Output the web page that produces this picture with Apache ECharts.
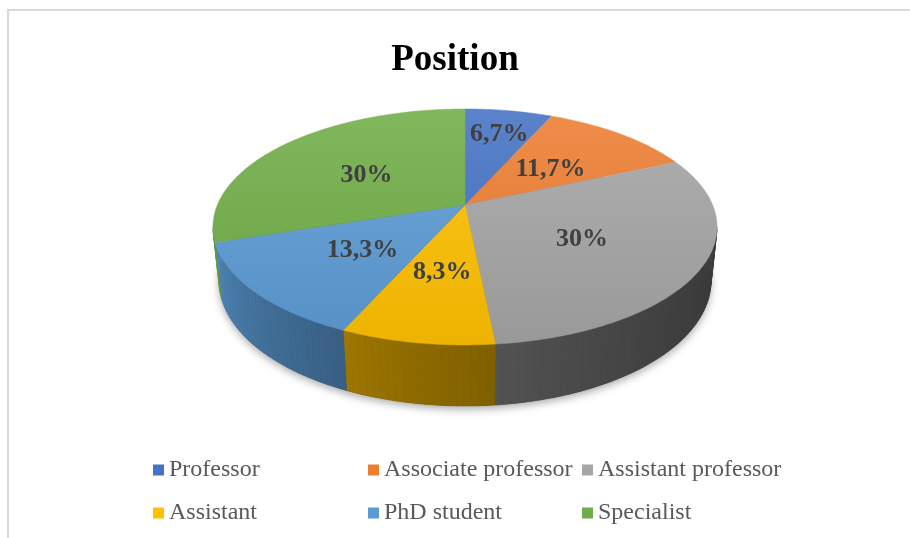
<!DOCTYPE html>
<html>
<head>
<meta charset="utf-8">
<script src="https://cdn.jsdelivr.net/npm/echarts@6/dist/echarts.min.js"></script>
<style>
  html, body { margin: 0; padding: 0; background: #fff; }
  #container { width: 910px; height: 538px; }
</style>
</head>
<body>
<div id="container"></div>
<script>
// dados do gráfico
var positions = ['Professor', 'Associate professor', 'Assistant professor', 'Assistant', 'PhD student', 'Specialist'];
var shares = [6.7, 11.7, 30, 8.3, 13.3, 30];
var palette = ['#4472C4', '#ED7D31', '#A5A5A5', '#FFC000', '#5B9BD5', '#70AD47'];

// 3D view (perspective) of the pie
var cx = 465, cy = 205, F = 1182, R = 0.2095, H = 0.0519, SA = 0.46, CA = 0.888;

function proj(deg, k, yup) {
    var t = deg * Math.PI / 180;
    var X = R * k * Math.sin(t), Z = R * k * Math.cos(t);
    var depth = 1 + Z * CA - yup * SA;
    var up = yup * CA + Z * SA;
    return [cx + F * X / depth, cy - F * up / depth];
}

function rgb(hex) {
    return [parseInt(hex.substr(1, 2), 16), parseInt(hex.substr(3, 2), 16), parseInt(hex.substr(5, 2), 16)];
}
function shadeCol(hex, f) {
    var c = rgb(hex);
    return 'rgb(' + c.map(function (v) { return Math.max(0, Math.min(255, Math.round(v * f))); }).join(',') + ')';
}
function lighten(hex, f) {
    var c = rgb(hex);
    return 'rgb(' + c.map(function (v) { return Math.round(v + (255 - v) * f); }).join(',') + ')';
}

var total = shares.reduce(function (a, b) { return a + b; }, 0);
var starts = [];
var acc = 0;
for (var i = 0; i < shares.length; i++) { starts.push(acc / total * 360); acc += shares[i]; }

function renderSlice(params, api) {
    var i = params.dataIndex;
    var v = api.value(0);
    var a0 = starts[i], a1 = a0 + v / total * 360;
    var base = palette[i];
    var children = [];

    if (i === 0) {
        var under = [];
        for (var d = 0; d <= 360; d += 3) under.push(proj(d, 1, -H));
        children.push({
            type: 'polygon', z2: 0, silent: true,
            shape: { points: under },
            style: { fill: '#3a3a3a', shadowBlur: 8, shadowColor: 'rgba(0,0,0,0.35)', shadowOffsetY: 3 }
        });
    }

    // parede lateral
    var lo = Math.max(a0, 100.7), hi = Math.min(a1, 259.3);
    if (hi > lo) {
        var n = Math.ceil((hi - lo) / 1.5);
        for (var j = 0; j < n; j++) {
            var b0 = lo + (hi - lo) * j / n, b1 = lo + (hi - lo) * (j + 1) / n;
            var t = ((b0 + b1) / 2 - 100) / 159;
            var s = 0.35 + 0.55 * Math.pow(t, 1.7);
            var c = shadeCol(base, s);
            children.push({
                type: 'polygon', z2: 1, silent: true,
                shape: { points: [proj(b0, 1, 0), proj(b1, 1, 0), proj(b1, 1, -H), proj(b0, 1, -H)] },
                style: { fill: c, stroke: c, lineWidth: 0.6 }
            });
        }
    }

    // topo
    var pts = [proj(0, 0, 0)];
    for (var d2 = a0; d2 < a1; d2 += 1) pts.push(proj(d2, 1, 0));
    pts.push(proj(a1, 1, 0));
    var grad = new echarts.graphic.LinearGradient(0, 109, 0, 345, [
        { offset: 0, color: lighten(base, 0.12) },
        { offset: 1, color: shadeCol(base, 0.93) }
    ], true);
    children.push({
        type: 'polygon', z2: 10,
        shape: { points: pts },
        style: { fill: grad, stroke: grad, lineWidth: 0.5 }
    });

    // rótulo
    var k = v < 7 ? 0.75 : 0.52;
    var p = proj((a0 + a1) / 2, k, 0);
    children.push({
        type: 'text', z2: 20, silent: true,
        style: {
            text: String(v).replace('.', ',') + '%',
            x: p[0], y: p[1] + 3, align: 'center', verticalAlign: 'middle',
            font: 'bold 26px "Liberation Serif"', fill: '#404040'
        }
    });

    return { type: 'group', children: children };
}

var dom = document.getElementById('container');
var myChart = echarts.init(dom);

var legendCols = [153, 368, 582];
var legendRows = [468, 511];
var legends = positions.map(function (name, i) {
    return {
        data: [name],
        left: legendCols[i % 3],
        top: legendRows[Math.floor(i / 3)] - 10,
        padding: 0,
        icon: 'rect',
        itemWidth: 11,
        itemHeight: 11,
        selectedMode: false,
        textStyle: { fontFamily: '"Liberation Serif"', fontSize: 24, color: '#595959' }
    };
});

var option = {
    backgroundColor: '#fff',
    animation: false,
    title: {
        text: 'Position',
        left: 'center',
        top: 42,
        padding: 0,
        textStyle: { fontFamily: 'Liberation Serif', fontSize: 37, fontWeight: 'bold', color: '#000' }
    },
    legend: legends,
    graphic: [{
        type: 'polyline',
        silent: true,
        shape: { points: [[8, 538], [8, 10], [910, 10]] },
        style: { stroke: '#d9d9d9', lineWidth: 2, fill: null }
    }],
    series: [
        {
            // só para a legenda
            type: 'pie',
            radius: [0, 0],
            center: [cx, cy],
            silent: true,
            label: { show: false },
            labelLine: { show: false },
            data: positions.map(function (n, i) {
                return { name: n, value: shares[i], itemStyle: { color: palette[i] } };
            })
        },
        {
            type: 'custom',
            coordinateSystem: 'none',
            renderItem: renderSlice,
            data: positions.map(function (n, i) { return { name: n, value: [shares[i]] }; })
        }
    ]
};

myChart.setOption(option, true);
</script>
</body>
</html>
